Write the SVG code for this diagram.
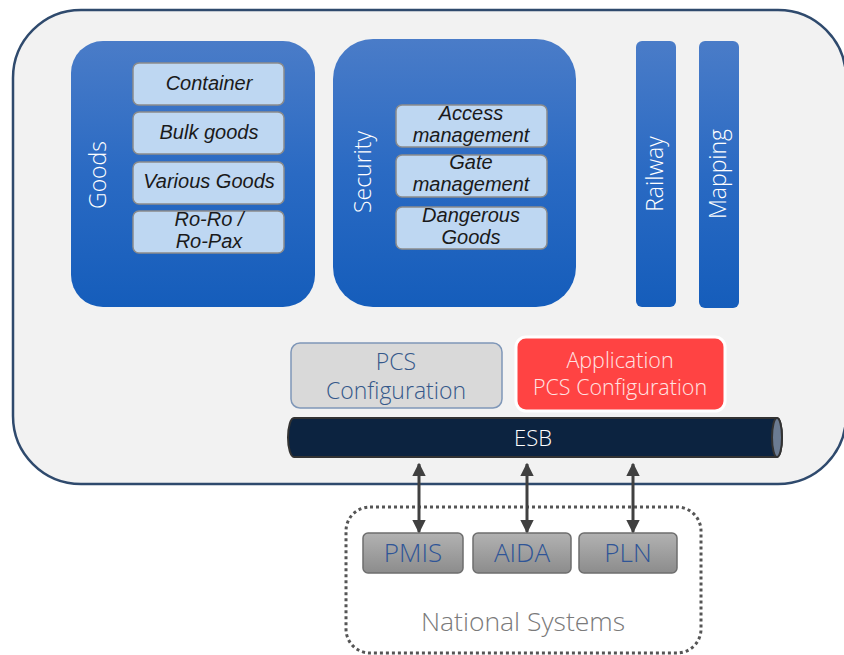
<svg xmlns="http://www.w3.org/2000/svg" width="844" height="655" viewBox="0 0 844 655">
  <defs>
    <linearGradient id="blueFill" x1="0" y1="0" x2="0" y2="1">
      <stop offset="0" stop-color="#4a7cc8"/>
      <stop offset="0.5" stop-color="#2a6ac3"/>
      <stop offset="1" stop-color="#155dbb"/>
    </linearGradient>
    <linearGradient id="grayFill" x1="0" y1="0" x2="0" y2="1">
      <stop offset="0" stop-color="#b2b2b2"/>
      <stop offset="1" stop-color="#8c8c8c"/>
    </linearGradient>
    <marker id="head" viewBox="0 0 10 10" refX="9" refY="5" markerWidth="4.5" markerHeight="4.5" orient="auto-start-reverse">
      <path d="M0,0 L10,5 L0,10 z" fill="#404040"/>
    </marker>
    <style>
      .panel { fill: url(#blueFill); }
      .item { fill: #bed7f2; stroke: #8c8c8c; stroke-width: 1.5; }
      .itemText { font-family: "Liberation Sans", Arial, sans-serif; font-style: italic; font-size: 20px; fill: #1a1a1a; text-anchor: middle; }
      .vlabel { font-family: "Open Sans", "Noto Sans", sans-serif; font-weight: 300; font-size: 23px; fill: #ffffff; text-anchor: middle; }
      .light { font-family: "Open Sans", "Noto Sans", sans-serif; font-weight: 300; text-anchor: middle; }
      .sys { fill: url(#grayFill); stroke: #6e6e6e; stroke-width: 1.5; }
      .sysText { font-size: 26px; fill: #2f5597; }
      .link { stroke: #404040; stroke-width: 3; marker-start: url(#head); marker-end: url(#head); }
    </style>
  </defs>

  <!-- platform frame -->
  <rect id="platform" x="13" y="10" width="833" height="474" rx="68" fill="#f2f2f2" stroke="#2f4a6d" stroke-width="2.5"/>

  <!-- Goods -->
  <g id="goods">
    <rect class="panel" x="71" y="41" width="244" height="266" rx="32"/>
    <text class="vlabel" transform="translate(106,175) rotate(-90)">Goods</text>
    <rect class="item" x="133" y="63" width="151" height="42" rx="6"/>
    <text class="itemText" x="209" y="90">Container</text>
    <rect class="item" x="133" y="112" width="151" height="42" rx="6"/>
    <text class="itemText" x="209" y="139">Bulk goods</text>
    <rect class="item" x="133" y="162" width="151" height="42" rx="6"/>
    <text class="itemText" x="209" y="188">Various Goods</text>
    <rect class="item" x="133" y="211" width="151" height="42" rx="6"/>
    <text class="itemText" x="209" y="226">Ro-Ro /</text>
    <text class="itemText" x="209" y="248">Ro-Pax</text>
  </g>

  <!-- Security -->
  <g id="security">
    <rect class="panel" x="333" y="39" width="243" height="268" rx="40"/>
    <text class="vlabel" transform="translate(371,172) rotate(-90)">Security</text>
    <rect class="item" x="396" y="105" width="151" height="42" rx="6"/>
    <text class="itemText" x="471" y="120">Access</text>
    <text class="itemText" x="471" y="142">management</text>
    <rect class="item" x="396" y="155" width="151" height="42" rx="6"/>
    <text class="itemText" x="471" y="169">Gate</text>
    <text class="itemText" x="471" y="191">management</text>
    <rect class="item" x="396" y="207" width="151" height="42" rx="6"/>
    <text class="itemText" x="471" y="222">Dangerous</text>
    <text class="itemText" x="471" y="244">Goods</text>
  </g>

  <!-- Railway -->
  <g id="railway">
    <rect class="panel" x="636" y="41" width="40" height="266" rx="6"/>
    <text class="vlabel" transform="translate(663,174) rotate(-90)">Railway</text>
  </g>

  <!-- Mapping -->
  <g id="mapping">
    <rect class="panel" x="699" y="41" width="40" height="267" rx="6"/>
    <text class="vlabel" transform="translate(726,174) rotate(-90)">Mapping</text>
  </g>

  <!-- PCS Configuration -->
  <g id="pcs-config">
    <rect x="291" y="343" width="211" height="65" rx="9" fill="#d9d9d9" stroke="#7f97b8" stroke-width="1.5"/>
    <text class="light" x="396" y="370" font-size="23" fill="#35588a">PCS</text>
    <text class="light" x="396" y="399" font-size="23" fill="#35588a">Configuration</text>
  </g>

  <!-- Application PCS Configuration -->
  <g id="app-pcs-config">
    <rect x="516" y="337" width="209" height="74" rx="10" fill="#ff4343" stroke="#ffffff" stroke-width="3"/>
    <text class="light" x="620" y="368" font-size="21.5" fill="#ffe3e3">Application</text>
    <text class="light" x="620" y="395" font-size="21.5" fill="#ffe3e3">PCS Configuration</text>
  </g>

  <!-- ESB -->
  <g id="esb">
    <path d="M294,418 L777,418 A5,19.5 0 0 1 777,457 L294,457 A6,19.5 0 0 1 294,418 z" fill="#0c2340" stroke="#333333" stroke-width="2"/>
    <ellipse cx="777" cy="437.5" rx="5" ry="19.5" fill="#6b7b92" stroke="#333333" stroke-width="2"/>
    <text class="light" x="533" y="446" font-size="22" font-weight="400" fill="#ffffff">ESB</text>
  </g>

  <!-- National Systems -->
  <g id="national-systems">
    <rect x="346" y="507" width="355" height="146" rx="24" fill="none" stroke="#555555" stroke-width="3" stroke-dasharray="3 3"/>
    <text class="light" x="523" y="631" font-size="26.5" fill="#7a7a7a">National Systems</text>
  </g>
  <g id="pmis">
    <rect class="sys" x="363" y="533" width="100" height="40" rx="5"/>
    <text class="light sysText" x="413" y="562">PMIS</text>
  </g>
  <g id="aida">
    <rect class="sys" x="473" y="533" width="98" height="40" rx="5"/>
    <text class="light sysText" x="522" y="562">AIDA</text>
  </g>
  <g id="pln">
    <rect class="sys" x="579" y="533" width="98" height="40" rx="5"/>
    <text class="light sysText" x="628" y="562">PLN</text>
  </g>

  <!-- ESB links -->
  <g id="connectors">
    <line class="link" x1="419" y1="464" x2="419" y2="532"/>
    <line class="link" x1="527" y1="464" x2="527" y2="532"/>
    <line class="link" x1="633" y1="464" x2="633" y2="532"/>
  </g>
</svg>
